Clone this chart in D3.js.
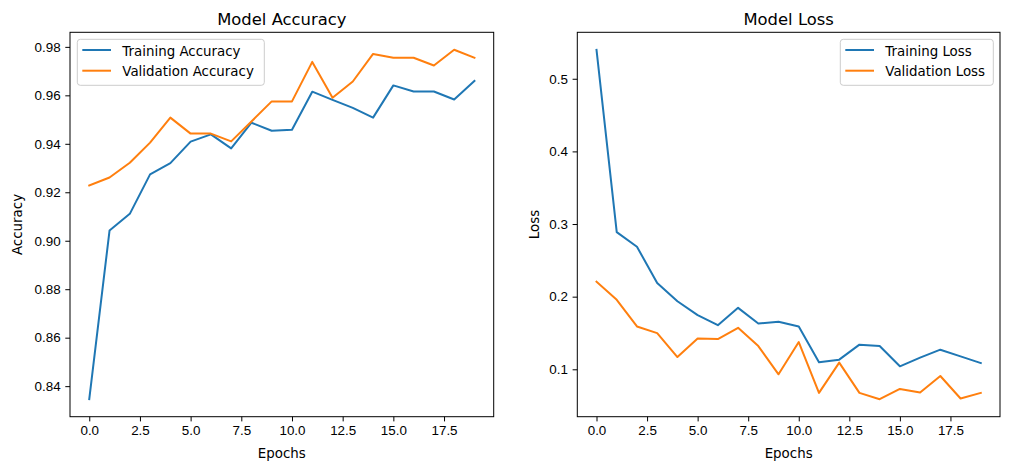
<!DOCTYPE html>
<html lang="en">
<head>
  <meta charset="UTF-8">
  <script src="https://d3js.org/d3.v7.min.js"></script>
  <style>
    body { margin: 0; background: #fff; }
    svg { display: block; font-family: "DejaVu Sans", sans-serif; }
    .tick text { font-size: 13.4px; fill: #000; }
    .tick line { stroke: #000; stroke-width: 1; }
  </style>
  <title>Model Accuracy and Loss</title>
</head>
<body>
  <div id="chart"></div>
  <script>
    // values
    var epochs = d3.range(20);
    var trainAcc = [0.8346, 0.9042, 0.9111, 0.9274, 0.9320, 0.9409, 0.9439, 0.9381, 0.9487, 0.9454,
                    0.9458, 0.9615, 0.9581, 0.9548, 0.9508, 0.9641, 0.9616, 0.9616, 0.9583, 0.9659];
    var valAcc = [0.9228, 0.9261, 0.9322, 0.9405, 0.9508, 0.9442, 0.9442, 0.9410, 0.9492, 0.9575,
                  0.9575, 0.9738, 0.9590, 0.9657, 0.9771, 0.9755, 0.9755, 0.9723, 0.9788, 0.9755];
    var trainLoss = [0.5399, 0.2889, 0.2687, 0.2189, 0.1937, 0.1745, 0.1608, 0.1846, 0.1631, 0.1654,
                     0.1590, 0.1096, 0.1133, 0.1339, 0.1320, 0.1041, 0.1160, 0.1270, 0.1178, 0.1086];
    var valLoss = [0.2207, 0.1956, 0.1590, 0.1498, 0.1169, 0.1425, 0.1416, 0.1572, 0.1320, 0.0931,
                   0.1375, 0.0675, 0.1092, 0.0675, 0.0588, 0.0730, 0.0680, 0.0908, 0.0598, 0.0675];
    var xTicks = [0, 2.5, 5, 7.5, 10, 12.5, 15, 17.5];
    var accTicks = [0.84, 0.86, 0.88, 0.90, 0.92, 0.94, 0.96, 0.98];
    var lossTicks = [0.1, 0.2, 0.3, 0.4, 0.5];

    var blue = "#1f77b4", orange = "#ff7f0e";
    var W = 1010, H = 470;

    var svg = d3.select("#chart").append("svg")
        .attr("width", W)
        .attr("height", H);

    // one subplot, matplotlib-like (5% margins, box spines)
    function panel(box, o) {
      var g = svg.append("g");
      var x = d3.scaleLinear()
          .domain([-0.95, 19.95])
          .range([box.x0, box.x1]);
      var all = o.series[0].values.concat(o.series[1].values);
      var lo = d3.min(all), hi = d3.max(all), pad = (hi - lo) * 0.05;
      var y = d3.scaleLinear()
          .domain([lo - pad, hi + pad])
          .range([box.y1, box.y0]);

      var line = d3.line()
          .x(function(d, i) { return x(epochs[i]); })
          .y(function(d) { return y(d); });

      o.series.forEach(function(s) {
        g.append("path")
          .datum(s.values)
          .attr("d", line)
          .attr("fill", "none")
          .attr("stroke", s.color)
          .attr("stroke-width", 2)
          .attr("stroke-linejoin", "round")
          .attr("stroke-linecap", "square");
      });

      var xa = g.append("g")
          .attr("transform", "translate(0," + box.y1 + ")")
          .call(d3.axisBottom(x).tickValues(xTicks).tickFormat(d3.format(".1f"))
            .tickSize(4.7).tickPadding(4.2).tickSizeOuter(0));
      xa.select(".domain").remove();

      var ya = g.append("g")
          .attr("transform", "translate(" + box.x0 + ",0)")
          .call(d3.axisLeft(y).tickValues(o.ticks).tickFormat(d3.format(o.fmt))
            .tickSize(4.7).tickPadding(4.7).tickSizeOuter(0));
      ya.select(".domain").remove();
      svg.selectAll(".tick text").attr("font-family", null);

      g.append("rect")
        .attr("x", box.x0).attr("y", box.y0)
        .attr("width", box.x1 - box.x0).attr("height", box.y1 - box.y0)
        .attr("fill", "none").attr("stroke", "#000").attr("stroke-width", 1);

      var cx = (box.x0 + box.x1) / 2;
      g.append("text")
        .attr("x", cx).attr("y", box.y0 - 7.5)
        .attr("text-anchor", "middle")
        .attr("font-size", "16.4px")
        .text(o.title);

      g.append("text")
        .attr("x", cx).attr("y", 457.5)
        .attr("text-anchor", "middle")
        .attr("font-size", "13.4px")
        .text("Epochs");

      g.append("text")
        .attr("transform", "translate(" + o.ylabX + "," + ((box.y0 + box.y1) / 2) + ") rotate(-90)")
        .attr("text-anchor", "middle")
        .attr("font-size", "13.4px")
        .text(o.ylabel);

      // legend
      var L = o.legend;
      g.append("rect")
        .attr("x", L.x).attr("y", L.y)
        .attr("width", L.w).attr("height", 46)
        .attr("rx", 3)
        .attr("fill", "#fff").attr("fill-opacity", 0.8)
        .attr("stroke", "#cccccc").attr("stroke-width", 1);
      o.series.forEach(function(s, i) {
        var ly = L.y + 10.7 + i * 20.7;
        g.append("line")
          .attr("x1", L.x + 5).attr("x2", L.x + 33.7)
          .attr("y1", ly).attr("y2", ly)
          .attr("stroke", s.color).attr("stroke-width", 2);
        g.append("text")
          .attr("x", L.x + 45).attr("y", ly + 5.5)
          .attr("font-size", "13.4px")
          .text(s.name);
      });
    }

    panel({ x0: 70, x1: 493.7, y0: 32.3, y1: 416.7 }, {
      title: "Model Accuracy",
      ylabel: "Accuracy",
      ylabX: 21.5,
      ticks: accTicks,
      fmt: ".2f",
      series: [
        { name: "Training Accuracy", values: trainAcc, color: blue },
        { name: "Validation Accuracy", values: valAcc, color: orange }
      ],
      legend: { x: 77.3, y: 39.3, w: 187 }
    });

    panel({ x0: 577.3, x1: 1000, y0: 32.3, y1: 416.7 }, {
      title: "Model Loss",
      ylabel: "Loss",
      ylabX: 538.5,
      ticks: lossTicks,
      fmt: ".1f",
      series: [
        { name: "Training Loss", values: trainLoss, color: blue },
        { name: "Validation Loss", values: valLoss, color: orange }
      ],
      legend: { x: 840.3, y: 39.3, w: 153 }
    });
  </script>
</body>
</html>
